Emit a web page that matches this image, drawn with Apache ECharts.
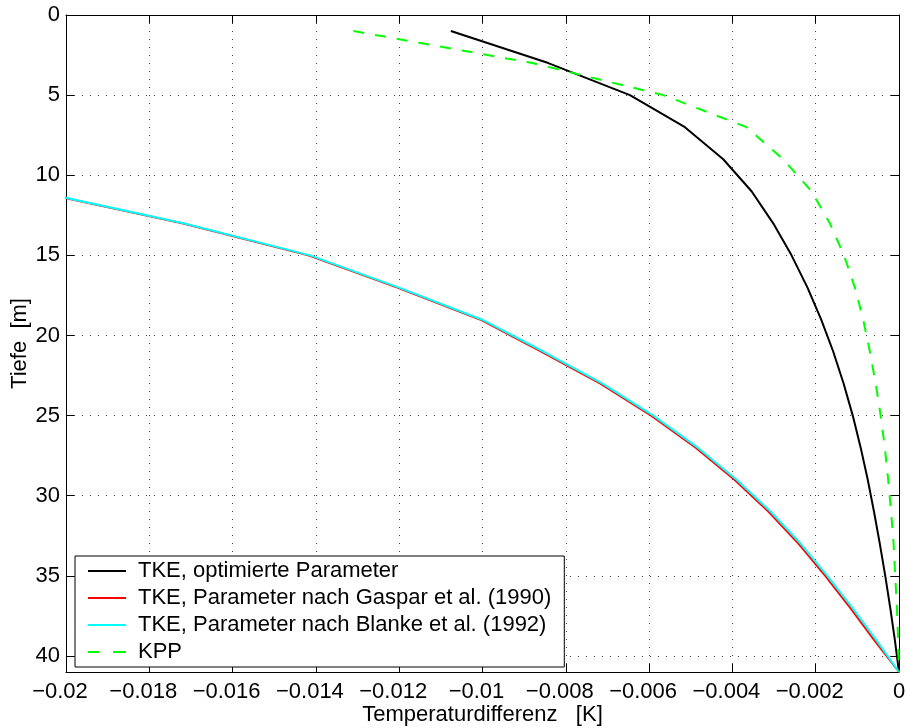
<!DOCTYPE html>
<html>
<head>
<meta charset="utf-8">
<script src="https://cdn.jsdelivr.net/npm/echarts@6/dist/echarts.min.js"></script>
<style>
  html, body { margin: 0; padding: 0; background: #fff; }
  #chart { width: 907px; height: 728px; }
</style>
</head>
<body>
<div id="chart"></div>
<script>
// Depth levels (m) of the profile output
const depthAll = [1, 3, 5, 7, 9, 11, 13, 15, 17, 19, 21, 23, 25, 27, 29, 31, 33, 35, 37, 39, 41];
const depthDeep = [11, 13, 15, 17, 19, 21, 23, 25, 27, 29, 31, 33, 35, 37, 39, 41];

// Temperature difference (K) per model run
const tkeOptimiert = [-0.01076, -0.00842, -0.00646, -0.00514, -0.00422, -0.00354, -0.00302, -0.00258,
  -0.00220, -0.00187, -0.00158, -0.00133, -0.00111, -0.00092, -0.00075, -0.00060, -0.00046,
  -0.00033, -0.00021, -0.00010, 0];
const tkeGaspar = [-0.02076, -0.01721, -0.01418, -0.01206, -0.01006, -0.00859, -0.00717, -0.00595,
  -0.00488, -0.00395, -0.00313, -0.00241, -0.00177, -0.00117, -0.00060, 0];
const tkeBlanke = [-0.02073, -0.01718, -0.01414, -0.01202, -0.01002, -0.00854, -0.00712, -0.00590,
  -0.00483, -0.00390, -0.00308, -0.00236, -0.00172, -0.00112, -0.00055, 0];
const kpp = [-0.0131, -0.0088, -0.00566, -0.00366, -0.00278, -0.00210, -0.00166, -0.00132,
  -0.00106, -0.00086, -0.00070, -0.00056, -0.00044, -0.00034, -0.00026, -0.00019, -0.00013,
  -0.00009, -0.00005, -0.00002, 0];

const seriesNames = [
  'TKE, optimierte Parameter',
  'TKE, Parameter nach Gaspar et al. (1990)',
  'TKE, Parameter nach Blanke et al. (1992)',
  'KPP'
];

const FONT = '"Liberation Sans", Arial, Helvetica, sans-serif';

// legend keys: a solid stroke and a two-dash stroke
const ICON_SOLID = 'path://M0,0h38v2h-38z';
const ICON_DASHED = 'path://M0,0h11v2h-11z M25,0h13v2h-13z';

function pairs(xs, ds) {
  return xs.map((x, i) => [x, ds[i]]);
}

// negative tick labels sit slightly left of their tick, as in the original plot style
function fmtX(v) {
  if (Math.abs(v) < 1e-12) return '0';
  const s = String(Number(v.toFixed(4))).replace('-', '\u2212');
  return '{neg|' + s + '}';
}

const gridDots = { show: true, lineStyle: { color: '#000', width: 1, type: [1, 7], opacity: 0.75 } };
const axisLineStyle = { show: true, onZero: false, lineStyle: { color: '#000', width: 1 } };
const tickIn = { show: true, inside: true, length: 8, lineStyle: { color: '#000', width: 1 } };
const labelFont = { color: '#000', fontSize: 22, fontFamily: FONT };

const chart = echarts.init(document.getElementById('chart'), null, { renderer: 'canvas' });

chart.setOption({
  animation: false,
  backgroundColor: '#fff',
  grid: { left: 66, right: 8, top: 15, bottom: 56, containLabel: false, outerBoundsMode: 'none' },
  xAxis: [
    {
      type: 'value', position: 'bottom', min: -0.02, max: 0, interval: 0.002,
      axisLine: axisLineStyle, axisTick: tickIn, splitLine: gridDots,
      axisLabel: Object.assign({
        margin: 9, formatter: fmtX,
        rich: { neg: { color: '#000', fontSize: 22, fontFamily: FONT, padding: [0, 12, 0, 0] } }
      }, labelFont),
      name: 'Temperaturdifferenz   [K]', nameLocation: 'middle', nameGap: 32,
      nameMoveOverlap: false,
      nameTextStyle: labelFont
    },
    {
      type: 'value', position: 'top', min: -0.02, max: 0, interval: 0.002,
      axisLine: axisLineStyle, axisTick: tickIn, splitLine: { show: false },
      axisLabel: { show: false }
    }
  ],
  yAxis: [
    {
      type: 'value', position: 'left', inverse: true, min: 0, max: 41, interval: 5,
      axisLine: axisLineStyle, axisTick: tickIn, splitLine: gridDots,
      axisLabel: Object.assign({ margin: 6, formatter: v => (v % 5 === 0 ? String(v) : '') }, labelFont),
      name: 'Tiefe  [m]', nameLocation: 'middle', nameGap: 35,
      nameMoveOverlap: false,
      nameTextStyle: labelFont
    },
    {
      type: 'value', position: 'right', inverse: true, min: 0, max: 41, interval: 5,
      axisLine: axisLineStyle, axisTick: tickIn, splitLine: { show: false },
      axisLabel: { show: false }
    }
  ],
  legend: {
    data: [
      { name: seriesNames[0], icon: ICON_SOLID, itemStyle: { color: '#000' } },
      { name: seriesNames[1], icon: ICON_SOLID, itemStyle: { color: '#ff0000' } },
      { name: seriesNames[2], icon: ICON_SOLID, itemStyle: { color: '#00ffff' } },
      { name: seriesNames[3], icon: ICON_DASHED, itemStyle: { color: '#00ff00' } }
    ],
    orient: 'vertical',
    left: 75, top: 556,
    backgroundColor: '#fff',
    borderColor: '#000', borderWidth: 1,
    padding: [4, 13, 4, 13],
    itemWidth: 38, itemHeight: 2, itemGap: 5,
    textStyle: { color: '#000', fontSize: 22, fontFamily: FONT, lineHeight: 21, padding: [0, 0, 0, 7] }
  },
  series: [
    {
      name: seriesNames[0], type: 'line', symbol: 'none', clip: true,
      data: pairs(tkeOptimiert, depthAll),
      lineStyle: { color: '#000', width: 2 }, itemStyle: { color: '#000' }
    },
    {
      name: seriesNames[1], type: 'line', symbol: 'none', clip: true,
      data: pairs(tkeGaspar, depthDeep),
      lineStyle: { color: '#ff0000', width: 2 }, itemStyle: { color: '#ff0000' }
    },
    {
      name: seriesNames[2], type: 'line', symbol: 'none', clip: true,
      data: pairs(tkeBlanke, depthDeep),
      lineStyle: { color: '#00ffff', width: 2 }, itemStyle: { color: '#00ffff' }
    },
    {
      name: seriesNames[3], type: 'line', symbol: 'none', clip: true,
      data: pairs(kpp, depthAll),
      lineStyle: { color: '#00ff00', width: 2, type: [11, 11] }, itemStyle: { color: '#00ff00' }
    }
  ]
});
</script>
</body>
</html>
